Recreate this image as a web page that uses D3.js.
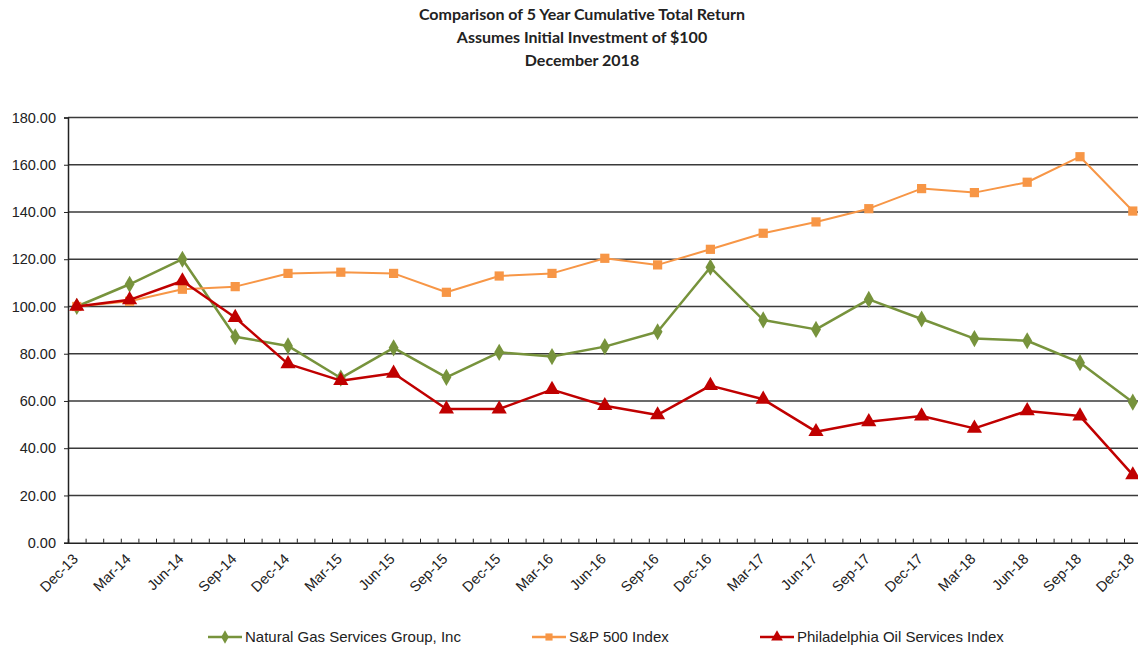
<!DOCTYPE html>
<html>
<head>
<meta charset="utf-8">
<script src="https://cdn.jsdelivr.net/npm/d3@7"></script>
<style>
  body { margin: 0; background: #fff; }
  text { font-family: "Liberation Sans", Arial, sans-serif; fill: #222; }
</style>
</head>
<body>
<div id="canvas"></div>
<script>
(function(d3){

  // quarter labels, one per data point
  var quarters = ['Dec-13','Mar-14','Jun-14','Sep-14','Dec-14','Mar-15','Jun-15','Sep-15','Dec-15',
                  'Mar-16','Jun-16','Sep-16','Dec-16','Mar-17','Jun-17','Sep-17','Dec-17',
                  'Mar-18','Jun-18','Sep-18','Dec-18'];

  var ngs = [100, 109.4, 120.0, 87.2, 83.3, 69.7, 82.5, 70.0, 80.6, 78.8, 83.0,
             89.3, 116.6, 94.3, 90.3, 103.0, 94.7, 86.4, 85.5, 76.2, 59.5];
  var sp500 = [100, 102.2, 107.3, 108.4, 114.0, 114.5, 114.0, 106.0, 112.9, 114.0, 120.4,
               117.6, 124.2, 131.0, 135.8, 141.4, 149.9, 148.2, 152.6, 163.4, 140.4];
  var osx = [100, 102.8, 110.8, 95.3, 75.7, 68.6, 71.7, 56.6, 56.6, 64.8, 58.0,
             54.1, 66.5, 60.7, 47.0, 51.2, 53.6, 48.4, 55.8, 53.6, 28.7];

  var seriesNames = ['Natural Gas Services Group, Inc', 'S&P 500 Index', 'Philadelphia Oil Services Index'];
  var yTicks = [0, 20, 40, 60, 80, 100, 120, 140, 160, 180];
  var titleLines = ['Comparison of 5 Year Cumulative Total Return',
                    'Assumes Initial Investment of $100',
                    'December 2018'];

  var canvas_d = {width: 1138, height: 652},
      plot = {left: 68, top: 117.5, bottom: 542.7, monthW: 17.6},
      colors = ['#77933C', '#F79646', '#C00000'],
      shapes = [d3.symbolDiamond, d3.symbolSquare, d3.symbolTriangle],
      sizes = [85, 85, 100],
      widths = [2.5, 2, 2.5],
      series = [ngs, sp500, osx];

  var months = 61;

  // monthly date axis, points sit in the middle of each month slot
  var x = d3.scaleLinear()
      .domain([-0.5, months - 0.5])
      .range([plot.left, plot.left + months * plot.monthW]);
  var y = d3.scaleLinear()
      .domain([0, 180])
      .range([plot.bottom, plot.top]);

  var svg = d3.select('#canvas').append('svg')
      .attr('width', canvas_d.width)
      .attr('height', canvas_d.height);

  /**
   * Title
   */
  svg.append('g').selectAll('text')
      .data(titleLines)
    .enter().append('text')
      .attr('x', 582)
      .attr('y', function(d, i){ return 20 + i * 23; })
      .attr('text-anchor', 'middle')
      .style('font-family', 'Lato, "Open Sans", sans-serif')
      .style('font-weight', 'bold')
      .style('font-size', '16px')
      .text(function(d){ return d; });

  /**
   * Grid + y axis
   */
  svg.append('g').selectAll('line')
      .data(yTicks.slice(1))
    .enter().append('line')
      .attr('x1', plot.left).attr('x2', canvas_d.width)
      .attr('y1', function(d){ return y(d); })
      .attr('y2', function(d){ return y(d); })
      .attr('stroke', '#3a3a3a')
      .attr('stroke-width', 1.6);

  var yAxis = svg.append('g')
      .attr('transform', 'translate(' + plot.left + ',0)')
      .call(d3.axisLeft(y).tickValues(yTicks).tickSize(4).tickPadding(8).tickFormat(d3.format('.2f')));
  yAxis.select('.domain').attr('stroke', '#222').attr('stroke-width', 1.5);
  yAxis.selectAll('.tick line').attr('stroke', '#222');
  yAxis.selectAll('text')
      .style('font-size', '14.5px')
      .style('font-family', '"Liberation Sans", Arial, sans-serif')
      .attr('fill', '#222');

  /**
   * x axis: month ticks, quarter labels
   */
  var xAxis = svg.append('g')
      .attr('transform', 'translate(0,' + plot.bottom + ')')
      .call(d3.axisBottom(x).tickValues(d3.range(months + 1).map(function(m){ return m - 0.5; }))
        .tickSize(-4).tickFormat(''));
  xAxis.select('.domain').attr('stroke', '#222').attr('stroke-width', 1.5);
  xAxis.selectAll('.tick line').attr('stroke', '#222');

  svg.append('g').selectAll('text')
      .data(quarters)
    .enter().append('text')
      .attr('transform', function(d, i){
        return 'translate(' + (x(i * 3) - 5) + ',' + (plot.bottom + 10) + ') rotate(-45)';
      })
      .attr('text-anchor', 'end')
      .attr('dy', '0.7em')
      .style('font-size', '14.5px')
      .text(function(d){ return d; });

  /**
   * Lines and markers
   */
  var line = d3.line()
      .x(function(d, i){ return x(i * 3); })
      .y(function(d){ return y(d); });

  series.forEach(function(s, k){
    var g = svg.append('g');
    g.append('path')
        .datum(s)
        .attr('d', line)
        .attr('fill', 'none')
        .attr('stroke', colors[k])
        .attr('stroke-width', widths[k])
        .attr('stroke-linejoin', 'round');
    g.selectAll('path.mark')
        .data(s)
      .enter().append('path')
        .attr('class', 'mark')
        .attr('d', d3.symbol().type(shapes[k]).size(sizes[k]))
        .attr('transform', function(d, i){
          return 'translate(' + x(i * 3) + ',' + y(d) + ')';
        })
        .attr('fill', colors[k]);
  });

  /**
   * Legend
   */
  var legendX = [208, 532, 760];
  var legend = svg.append('g').selectAll('g')
      .data(seriesNames)
    .enter().append('g')
      .attr('transform', function(d, i){ return 'translate(' + legendX[i] + ',637)'; });
  legend.append('line')
      .attr('x1', 0).attr('x2', 34)
      .attr('stroke', function(d, i){ return colors[i]; })
      .attr('stroke-width', 2.5);
  legend.append('path')
      .attr('d', function(d, i){ return d3.symbol().type(shapes[i]).size(sizes[i] * 0.6)(); })
      .attr('transform', 'translate(17,0)')
      .attr('fill', function(d, i){ return colors[i]; });
  legend.append('text')
      .attr('x', 37)
      .attr('dy', '0.35em')
      .style('font-size', '15px')
      .text(function(d){ return d; });

})(d3);
</script>
</body>
</html>
